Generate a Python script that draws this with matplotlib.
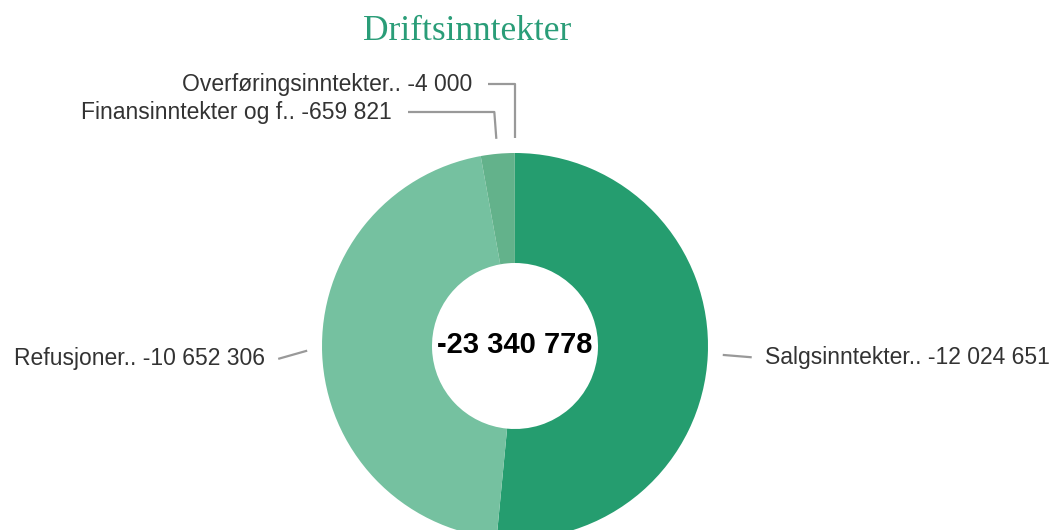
import numpy as np
import matplotlib
matplotlib.use('Agg')
import matplotlib.pyplot as plt

# Data
labels = ['Salgsinntekter..', 'Refusjoner..', 'Finansinntekter og f..', 'Overføringsinntekter..']
values = [-12024651, -10652306, -659821, -4000]
value_text = ['-12 024 651', '-10 652 306', '-659 821', '-4 000']
total_text = '-23 340 778'
title = 'Driftsinntekter'

colors = ['#259d6f', '#75c1a0', '#63b28b', '#4fa87e']

plt.rcParams['font.family'] = ['Liberation Sans', 'DejaVu Sans']

fig = plt.figure(figsize=(10.52, 5.30), dpi=100)
ax = fig.add_axes([0, 0, 1, 1])

cx, cy = 515, 184
R, r_in = 193, 83
mags = np.abs(values)

ax.pie(mags, colors=colors, startangle=90, counterclock=False, radius=R,
       center=(cx, cy), wedgeprops=dict(width=R - r_in, edgecolor='none'))

ax.set_xlim(0, 1052)
ax.set_ylim(0, 530)
ax.set_aspect('equal')
ax.axis('off')

# mid angles of slices, measured clockwise from the top
frac = mags / mags.sum() * 360
ends = np.cumsum(frac)
mids = ends - frac / 2

line_kw = dict(color='#999999', lw=1.6, solid_capstyle='butt')
txt_kw = dict(fontsize=16.5, color='#333333', va='center')

def pt(theta, rad):
    t = np.deg2rad(theta)
    return cx + rad * np.sin(t), cy + rad * np.cos(t)

# big slices: short leader lines
for i in [0, 1]:
    x0, y0 = pt(mids[i], R + 15)
    x1, y1 = pt(mids[i], R + 44)
    if x1 > cx:
        ax.plot([x0, x1], [y0 + 1, y1], **line_kw)
        ax.text(x1 + 13, y1, labels[i] + ' ' + value_text[i], ha='left', **txt_kw)
    else:
        ax.plot([x0, x1], [y0 + 4, y1 - 3], **line_kw)
        ax.text(x1 - 13, y1 - 3, labels[i] + ' ' + value_text[i], ha='right', **txt_kw)

# small slices at the top: elbow leader lines
elbow_y = {2: 418, 3: 446}
elbow_x = {2: 408, 3: 488}
for i in [2, 3]:
    x0, y0 = pt(mids[i], R + 15)
    ax.plot([x0, x0 - (2 if i == 2 else 0), elbow_x[i]],
            [y0, elbow_y[i], elbow_y[i]], **line_kw)
    ax.text(elbow_x[i] - 16, elbow_y[i], labels[i] + ' ' + value_text[i],
            ha='right', **txt_kw)

ax.text(cx, cy + 1, total_text, ha='center', va='center', fontsize=21,
        fontweight='bold', color='black')

ax.text(467, 499, title, ha='center', va='center', fontsize=25.5,
        family=['Liberation Serif', 'DejaVu Serif'], color='#2a9d78')

fig.savefig('out.png', dpi=100)
